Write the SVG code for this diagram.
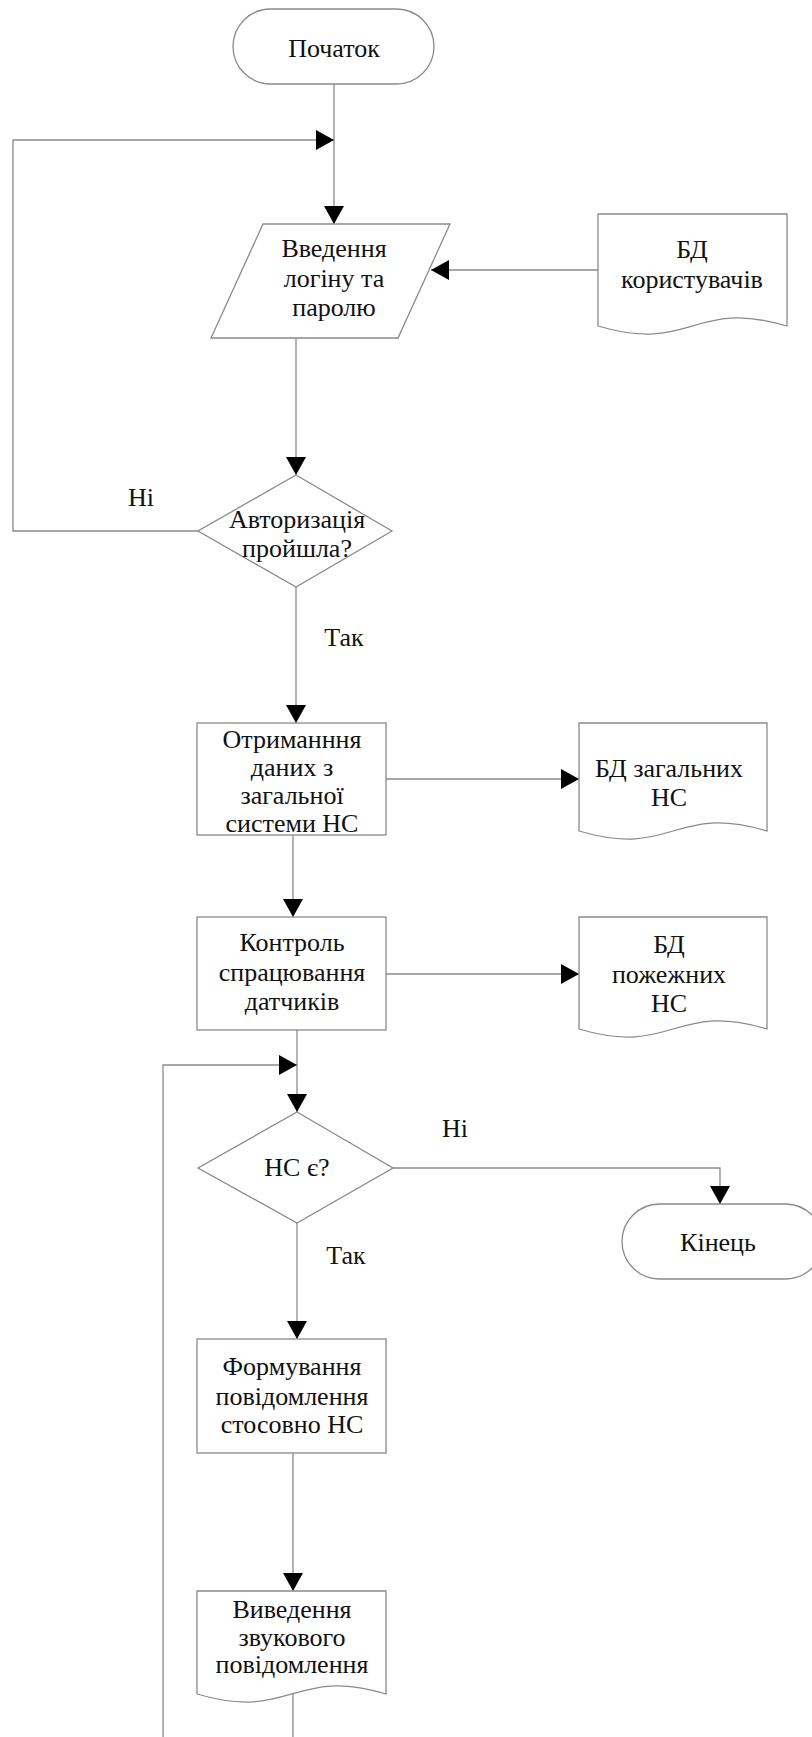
<svg xmlns="http://www.w3.org/2000/svg" width="812" height="1737" viewBox="0 0 812 1737">
<style>
.s{fill:#fff;stroke:#8a8a8a;stroke-width:1.3}
.c{fill:none;stroke:#8a8a8a;stroke-width:1.3}
text{font-family:"Liberation Serif","Times New Roman",serif;font-size:26px;fill:#111;text-anchor:middle}
</style>
<defs>
<marker id="a" viewBox="0 0 18 20" refX="18" refY="10" markerWidth="18" markerHeight="20" markerUnits="userSpaceOnUse" orient="auto">
<path d="M0,0 L18,10 L0,20 Z" fill="#000"/>
</marker>
</defs>
<rect width="812" height="1737" fill="#fff"/>
<g id="connectors">
<path class="c" d="M334,84 V224" marker-end="url(#a)"/>
<path class="c" d="M198,531 H13 V140 H334" marker-end="url(#a)"/>
<path class="c" d="M598,270 H431" marker-end="url(#a)"/>
<path class="c" d="M296,338 V475" marker-end="url(#a)"/>
<path class="c" d="M296,587 V723" marker-end="url(#a)"/>
<path class="c" d="M386,779 H579" marker-end="url(#a)"/>
<path class="c" d="M293,835 V917" marker-end="url(#a)"/>
<path class="c" d="M386,974 H579" marker-end="url(#a)"/>
<path class="c" d="M297,1030 V1112" marker-end="url(#a)"/>
<path class="c" d="M163,1737 V1065 H297" marker-end="url(#a)"/>
<path class="c" d="M393,1168 H720 V1204" marker-end="url(#a)"/>
<path class="c" d="M297,1223 V1339" marker-end="url(#a)"/>
<path class="c" d="M293,1453 V1591" marker-end="url(#a)"/>
<path class="c" d="M293,1694 V1737"/>
</g>
<g id="start">
<rect class="s" x="233" y="9" width="201" height="75" rx="37.5" ry="37.5"/>
<text x="334" y="57">Початок</text>
</g>
<g id="input-login">
<polygon class="s" points="263,224 450,224 398,338 211,338"/>
<text x="334" y="257">Введення</text>
<text x="334" y="287">логіну та</text>
<text x="334" y="316">паролю</text>
</g>
<g id="db-users">
<path class="s" d="M598,214 H787 V326 C692,298 692,354 598,326 Z"/>
<text x="692" y="258">БД</text>
<text x="692" y="288">користувачів</text>
</g>
<g id="auth-decision">
<polygon class="s" points="296,475 392,531 296,587 198,531"/>
<text x="297" y="528">Авторизація</text>
<text x="297" y="557">пройшла?</text>
</g>
<g id="label-no-1"><text x="141" y="506">Ні</text></g>
<g id="label-yes-1"><text x="344" y="646">Так</text></g>
<g id="get-data">
<rect class="s" x="197" y="723" width="189" height="112"/>
<text x="292" y="748">Отриманння</text>
<text x="292" y="776">даних з</text>
<text x="292" y="804">загальної</text>
<text x="292" y="832">системи НС</text>
</g>
<g id="db-general">
<path class="s" d="M579,723 H767 V831 C673,803 673,859 579,831 Z"/>
<text x="669" y="777">БД загальних</text>
<text x="669" y="806">НС</text>
</g>
<g id="control">
<rect class="s" x="197" y="917" width="189" height="113"/>
<text x="292" y="951">Контроль</text>
<text x="292" y="981">спрацювання</text>
<text x="292" y="1010">датчиків</text>
</g>
<g id="db-fire">
<path class="s" d="M579,917 H767 V1029 C673,1001 673,1057 579,1029 Z"/>
<text x="669" y="953">БД</text>
<text x="669" y="983">пожежних</text>
<text x="669" y="1012">НС</text>
</g>
<g id="emergency-decision">
<polygon class="s" points="297,1112 393,1168 297,1223 198,1168"/>
<text x="297" y="1176">НС є?</text>
</g>
<g id="label-no-2"><text x="455" y="1137">Ні</text></g>
<g id="label-yes-2"><text x="346" y="1264">Так</text></g>
<g id="end">
<rect class="s" x="622" y="1204" width="201" height="75" rx="37.5" ry="37.5"/>
<text x="718" y="1251">Кінець</text>
</g>
<g id="form-message">
<rect class="s" x="197" y="1339" width="189" height="114"/>
<text x="292" y="1375">Формування</text>
<text x="292" y="1405">повідомлення</text>
<text x="292" y="1433">стосовно НС</text>
</g>
<g id="sound-output">
<path class="s" d="M197,1591 H386 V1694 C292,1666 292,1722 197,1694 Z"/>
<text x="292" y="1618">Виведення</text>
<text x="292" y="1646">звукового</text>
<text x="292" y="1673">повідомлення</text>
</g>
</svg>
